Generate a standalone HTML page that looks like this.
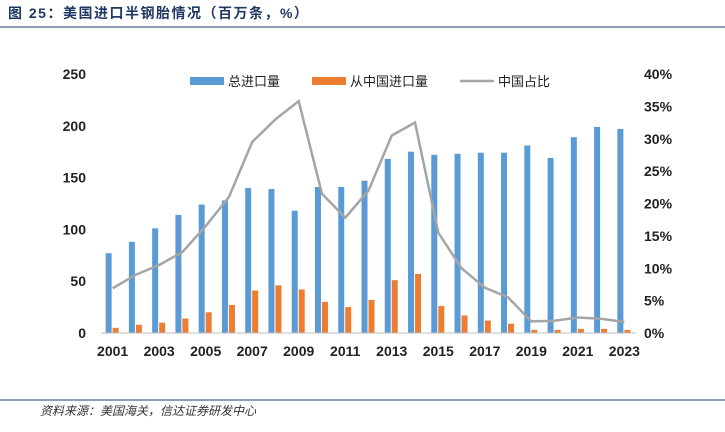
<!DOCTYPE html>
<html><head><meta charset="utf-8"><style>
body{margin:0;background:#fff;width:725px;height:427px;overflow:hidden;font-family:"Liberation Sans","Noto Sans CJK SC",sans-serif}
</style></head><body>
<svg width="725" height="427" xmlns="http://www.w3.org/2000/svg">
<text x="8" y="18" font-size="14" letter-spacing="1.5" font-weight="bold" fill="#1f3864" font-family="Liberation Sans,Noto Sans CJK SC,sans-serif">图 25：美国进口半钢胎情况（百万条，%）</text>
<line x1="0" y1="27" x2="725" y2="27" stroke="#1f3864" stroke-width="1"/>
<line x1="0" y1="400" x2="725" y2="400" stroke="#1f3864" stroke-width="1"/>
<text x="40" y="415" font-size="12" font-style="italic" fill="#333">资料来源：美国海关，信达证券研发中心</text>
<g id="plot"></g>
</svg>
<script>
const years=["2001","2002","2003","2004","2005","2006","2007","2008","2009","2010","2011","2012","2013","2014","2015","2016","2017","2018","2019","2020","2021","2022","2023"];
const totalImports=[77,88,101,114,124,128,140,139,118,141,141,147,168,175,172,173,174,174,181,169,189,199,197];
const chinaImports=[5,8,10,14,20,27,41,46,42,30,25,32,51,57,26,17,12,9,3,3,4,4,3];
const chinaShare=[6.9,9,10.5,12.5,16.5,21,29.5,33,35.8,21.5,17.8,22,30.5,32.5,15.5,10,7,5.5,1.8,1.9,2.4,2.2,1.7];
const leftTicks=[0,50,100,150,200,250];
const rightTicks=[0,5,10,15,20,25,30,35,40];
const NS="http://www.w3.org/2000/svg";
const g=document.getElementById('plot');
const x0=101,x1=636,yB=333,yT=74;
const step=(x1-x0)/years.length;
const xc=i=>x0+step*(i+0.5);
const yL=v=>yB-(v/250)*(yB-yT);
const yR=v=>yB-(v/40)*(yB-yT);
function mk(t,a){const e=document.createElementNS(NS,t);for(const k in a)e.setAttribute(k,a[k]);g.appendChild(e);return e;}
leftTicks.forEach(v=>{const t=mk('text',{x:86,y:yL(v)+5,'font-size':14,'font-weight':'bold','text-anchor':'end',fill:'#222'});t.textContent=v;

});
rightTicks.forEach(v=>{const t=mk('text',{x:644,y:yR(v)+5,'font-size':14,'font-weight':'bold',fill:'#222'});t.textContent=v+'%';

});
years.forEach((y,i)=>{if(i%2==0){const t=mk('text',{x:xc(i),y:356,'font-size':14,'font-weight':'bold','text-anchor':'middle',fill:'#222'});t.textContent=y;

}});
totalImports.forEach((v,i)=>{const r=mk('rect',{x:xc(i)-7,y:yL(v),width:6,height:yB-yL(v),fill:'#5b9bd5'});

});
chinaImports.forEach((v,i)=>{const r=mk('rect',{x:xc(i),y:yL(v),width:6,height:yB-yL(v),fill:'#ed7d31'});

});
const ax=mk('line',{x1:x0,y1:yB,x2:x1,y2:yB,stroke:'#bfbfbf','stroke-width':1});


const pl=mk('polyline',{points:chinaShare.map((v,i)=>xc(i)+','+yR(v)).join(' '),fill:'none',stroke:'#a5a5a5','stroke-width':2.5});


const l1=mk('rect',{x:190,y:77,width:34,height:8,fill:'#5b9bd5'});


const t1=mk('text',{x:228,y:86,'font-size':13,fill:'#222'});t1.textContent='总进口量';


const l2=mk('rect',{x:312,y:77,width:34,height:8,fill:'#ed7d31'});


const t2=mk('text',{x:350,y:86,'font-size':13,fill:'#222'});t2.textContent='从中国进口量';


const l3=mk('line',{x1:460,y1:81,x2:494,y2:81,stroke:'#a5a5a5','stroke-width':2.5});


const t3=mk('text',{x:498,y:86,'font-size':13,fill:'#222'});t3.textContent='中国占比';


</script>
</body></html>
